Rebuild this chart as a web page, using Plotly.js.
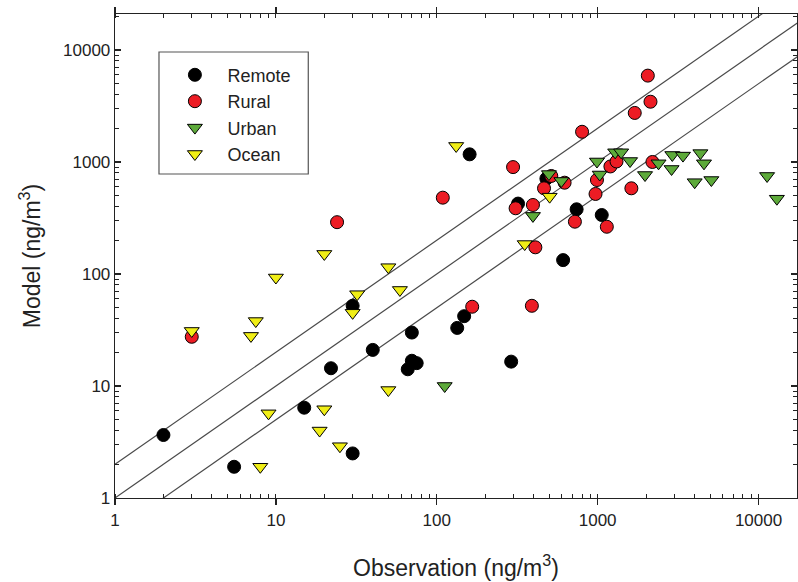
<!DOCTYPE html>
<html>
<head>
<meta charset="utf-8">
<script src="https://cdn.plot.ly/plotly-3.0.1.min.js"></script>
<style>html,body{margin:0;padding:0;background:#fff;}#chart{width:798px;height:582px;}</style>
</head>
<body>
<div id="chart"></div>
<script>
// Remote
const remoteX = [2, 5.5, 15, 22, 30, 30, 40, 66, 70, 75, 70, 134, 148, 160, 290, 320, 480, 610, 740, 1060];
const remoteY = [3.65, 1.9, 6.4, 14.4, 2.5, 52, 21, 14.1, 16.8, 16, 30, 33, 42, 1170, 16.5, 425, 710, 133, 378, 336];
// Rural
const ruralX = [3, 24, 109, 298, 166, 390, 309, 396, 410, 515, 623, 464, 722, 1140, 800, 1700, 2130, 2050, 990, 970, 1200, 1310, 1620, 2190];
const ruralY = [27.5, 290, 480, 900, 51, 52, 386, 413, 173, 750, 653, 582, 293, 264, 1860, 2740, 3450, 5900, 690, 518, 912, 1010, 582, 1000];
// Urban
const urbanX = [112, 396, 498, 595, 990, 1030, 1285, 1400, 1590, 1970, 2390, 2910, 3390, 2880, 4350, 4580, 4010, 5090, 11300, 13000];
const urbanY = [10, 330, 780, 677, 1010, 773, 1220, 1220, 1020, 765, 973, 1155, 1140, 866, 1200, 973, 660, 690, 750, 470];
// Ocean
const oceanX = [3, 7.5, 7, 8, 9, 20, 18.7, 25, 30, 32, 10, 20, 50, 59, 50, 132, 352, 503];
const oceanY = [31, 38, 28, 1.9, 5.7, 6.2, 4.0, 2.9, 45, 66, 93, 151, 115, 72, 9.2, 1390, 185, 490];
// Reference lines: Model = ratio * Observation
const refLineX = [0.1, 100000];
const refRatios = [2, 1, 0.5];
const tickVals = [1, 10, 100, 1000, 10000];
const tickText = ['1', '10', '100', '1000', '10000'];

const FONT = 'Liberation Sans, Arial, sans-serif';
const traces = [];
refRatios.forEach(r => {
  traces.push({
    x: refLineX, y: refLineX.map(v => v * r), mode: 'lines', type: 'scatter',
    line: {color: '#4a4a4a', width: 1.2}, showlegend: false, hoverinfo: 'skip'
  });
});
function pts(name, xs, ys, symbol, color, size) {
  return {x: xs, y: ys, name: name, mode: 'markers', type: 'scatter',
    marker: {symbol: symbol, color: color, size: size, line: {color: '#000', width: 1}}};
}
traces.push(pts('Remote', remoteX, remoteY, 'circle', '#000000', 13));
traces.push(pts('Rural', ruralX, ruralY, 'circle', '#ec1c24', 13));
traces.push(pts('Urban', urbanX, urbanY, 'triangle-down', '#5daa3a', 13));
traces.push(pts('Ocean', oceanX, oceanY, 'triangle-down', '#f0ee16', 13));

const axisCommon = {
  type: 'log', showline: true, linecolor: '#222', linewidth: 1.3, mirror: 'ticks',
  showgrid: false, zeroline: false, tickmode: 'array', tickvals: tickVals, ticktext: tickText,
  ticklen: 6, tickcolor: '#222', tickwidth: 1.3,
  tickfont: {family: FONT, size: 17, color: '#222'},
  minor: {dtick: 'D1', ticks: 'inside', ticklen: 4, tickcolor: '#222', tickwidth: 1, showgrid: false}
};
const layout = {
  width: 798, height: 582,
  margin: {l: 115, r: 1, t: 14, b: 84},
  paper_bgcolor: '#fff', plot_bgcolor: '#fff',
  font: {family: FONT, color: '#222'},
  xaxis: Object.assign({}, axisCommon, {
    range: [0, 4.239], ticks: 'outside',
    title: {text: 'Observation (ng/m<sup>3</sup>)', font: {family: FONT, size: 23, color: '#222'}, standoff: 31}
  }),
  yaxis: Object.assign({}, axisCommon, {
    range: [0, 4.321], ticks: 'inside',
    title: {text: 'Model (ng/m<sup>3</sup>)', font: {family: FONT, size: 23, color: '#222'}, standoff: 16}
  }),
  legend: {
    x: 0.0695, y: 0.912, xanchor: 'left', yanchor: 'top',
    bgcolor: 'rgba(0,0,0,0)', borderwidth: 0, itemwidth: 55,
    font: {family: FONT, size: 18, color: '#222'}
  },
  shapes: [{type: 'rect', xref: 'paper', yref: 'paper', x0: 0.0645, x1: 0.2834, y0: 0.6694, y1: 0.9215,
    line: {color: '#555', width: 1.2}, fillcolor: 'rgba(0,0,0,0)', layer: 'above'}],
  showlegend: true
};
Plotly.newPlot('chart', traces, layout, {displayModeBar: false, staticPlot: true});
</script>
</body>
</html>
